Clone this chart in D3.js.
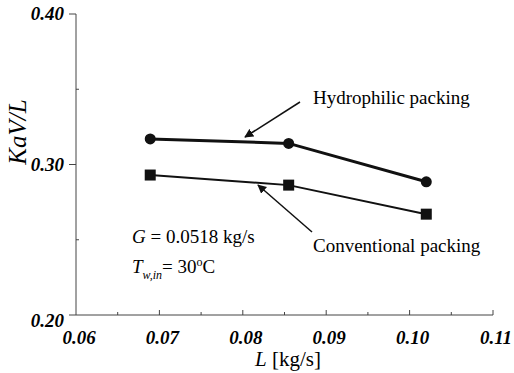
<!DOCTYPE html>
<html>
<head>
<meta charset="utf-8">
<script src="https://cdn.jsdelivr.net/npm/d3@7"></script>
</head>
<body style="margin:0">
<script>
// values
const flowRates = [0.0689, 0.0855, 0.1020];          // L [kg/s]
const hydrophilic = [0.317, 0.314, 0.2885];          // KaV/L
const conventional = [0.293, 0.2863, 0.267];         // KaV/L
const xTicks = [0.06, 0.07, 0.08, 0.09, 0.10, 0.11];
const yTicks = [0.20, 0.30, 0.40];

const width = 514, height = 373;
const margin = {top: 14, right: 21, bottom: 58, left: 76};
const serif = "'Liberation Serif'";

const svg = d3.select('body').append('svg')
  .attr('width', width).attr('height', height);

const x = d3.scaleLinear().domain([0.06, 0.11]).range([margin.left, width - margin.right]);
const y = d3.scaleLinear().domain([0.20, 0.40]).range([height - margin.bottom, margin.top]);

const axisColor = '#444';
const txt = (sel) => sel.append('text').attr('font-family', serif).style('font-family', serif);

// y axis line + ticks
svg.append('line')
  .attr('x1', x(0.06)).attr('x2', x(0.06))
  .attr('y1', y(0.40)).attr('y2', y(0.20))
  .attr('stroke', axisColor).attr('stroke-width', 1);

svg.selectAll('line.ymaj').data(yTicks)
  .join('line').attr('class', 'ymaj')
  .attr('x1', x(0.06) - 7).attr('x2', x(0.06))
  .attr('y1', d => y(d)).attr('y2', d => y(d))
  .attr('stroke', axisColor);

svg.selectAll('line.ymin').data([0.25, 0.35])
  .join('line').attr('class', 'ymin')
  .attr('x1', x(0.06)).attr('x2', x(0.06) + 3)
  .attr('y1', d => y(d)).attr('y2', d => y(d))
  .attr('stroke', axisColor);

svg.selectAll('text.ylab').data(yTicks)
  .join('text').attr('class', 'ylab')
  .attr('font-family', serif).style('font-family', serif)
  .attr('x', x(0.06) - 12)
  .attr('y', d => y(d) + (d === 0.20 ? 12 : 6))
  .attr('text-anchor', 'end')
  .attr('font-size', 19).attr('font-style', 'italic').attr('font-weight', 'bold')
  .text(d => d.toFixed(2));

// x axis line + ticks
svg.append('line')
  .attr('x1', x(0.06)).attr('x2', x(0.11))
  .attr('y1', y(0.20)).attr('y2', y(0.20))
  .attr('stroke', axisColor).attr('stroke-width', 1);

svg.selectAll('line.xmaj').data(xTicks.slice(1))
  .join('line').attr('class', 'xmaj')
  .attr('x1', d => x(d)).attr('x2', d => x(d))
  .attr('y1', y(0.20)).attr('y2', y(0.20) - 5)
  .attr('stroke', axisColor);

svg.selectAll('line.xmin').data([0.065, 0.075, 0.085, 0.095, 0.105])
  .join('line').attr('class', 'xmin')
  .attr('x1', d => x(d)).attr('x2', d => x(d))
  .attr('y1', y(0.20)).attr('y2', y(0.20) - 3)
  .attr('stroke', axisColor);

svg.selectAll('text.xlab').data(xTicks)
  .join('text').attr('class', 'xlab')
  .attr('font-family', serif).style('font-family', serif)
  .attr('x', d => x(d) + 3)
  .attr('y', y(0.20) + 29)
  .attr('text-anchor', 'middle')
  .attr('font-size', 19).attr('font-style', 'italic').attr('font-weight', 'bold')
  .text(d => d.toFixed(2));

// axis titles
const xt = txt(svg)
  .attr('x', 288).attr('y', 366)
  .attr('text-anchor', 'middle').attr('font-size', 21);
xt.append('tspan').attr('font-style', 'italic').text('L');
xt.append('tspan').text(' [kg/s]');

txt(svg)
  .attr('transform', 'translate(26,132) rotate(-90)')
  .attr('text-anchor', 'middle')
  .attr('font-size', 25).attr('font-style', 'italic')
  .text('KaV/L');

// series
const line = d3.line().x(d => x(d[0])).y(d => y(d[1]));
const hyd = flowRates.map((d, i) => [d, hydrophilic[i]]);
const con = flowRates.map((d, i) => [d, conventional[i]]);

svg.append('path').datum(hyd).attr('d', line)
  .attr('fill', 'none').attr('stroke', '#111').attr('stroke-width', 3);
svg.selectAll('circle.hyd').data(hyd)
  .join('circle').attr('class', 'hyd')
  .attr('cx', d => x(d[0])).attr('cy', d => y(d[1])).attr('r', 5.5)
  .attr('fill', '#111');

svg.append('path').datum(con).attr('d', line)
  .attr('fill', 'none').attr('stroke', '#111').attr('stroke-width', 2);
svg.selectAll('rect.con').data(con)
  .join('rect').attr('class', 'con')
  .attr('x', d => x(d[0]) - 5.5).attr('y', d => y(d[1]) - 5.5)
  .attr('width', 11).attr('height', 11)
  .attr('fill', '#111');

// annotations
svg.append('defs').append('marker')
  .attr('id', 'arr').attr('viewBox', '0 0 10 10')
  .attr('refX', 9).attr('refY', 5)
  .attr('markerWidth', 9).attr('markerHeight', 9)
  .attr('markerUnits', 'userSpaceOnUse')
  .attr('orient', 'auto')
  .append('path').attr('d', 'M0,0 L10,5 L0,10 Z').attr('fill', '#111');

svg.append('line')
  .attr('x1', 300).attr('y1', 102).attr('x2', 245).attr('y2', 137)
  .attr('stroke', '#111').attr('stroke-width', 1.5).attr('marker-end', 'url(#arr)');
svg.append('line')
  .attr('x1', 312).attr('y1', 232).attr('x2', 258).attr('y2', 185)
  .attr('stroke', '#111').attr('stroke-width', 1.5).attr('marker-end', 'url(#arr)');

txt(svg).attr('x', 313).attr('y', 104)
  .attr('font-size', 19).text('Hydrophilic packing');
txt(svg).attr('x', 313).attr('y', 252)
  .attr('font-size', 19).text('Conventional packing');

const g1 = txt(svg).attr('x', 132).attr('y', 243).attr('font-size', 19);
g1.append('tspan').attr('font-style', 'italic').text('G');
g1.append('tspan').text(' = 0.0518 kg/s');

const g2 = txt(svg).attr('x', 132).attr('y', 273).attr('font-size', 19);
g2.append('tspan').attr('font-style', 'italic').text('T');
g2.append('tspan').attr('font-style', 'italic').attr('font-size', 12).attr('dy', 6).text('w,in');
g2.append('tspan').attr('dy', -6).text('= 30');
g2.append('tspan').attr('font-size', 12).attr('dy', -7).text('o');
g2.append('tspan').attr('dy', 7).text('C');
</script>
</body>
</html>
